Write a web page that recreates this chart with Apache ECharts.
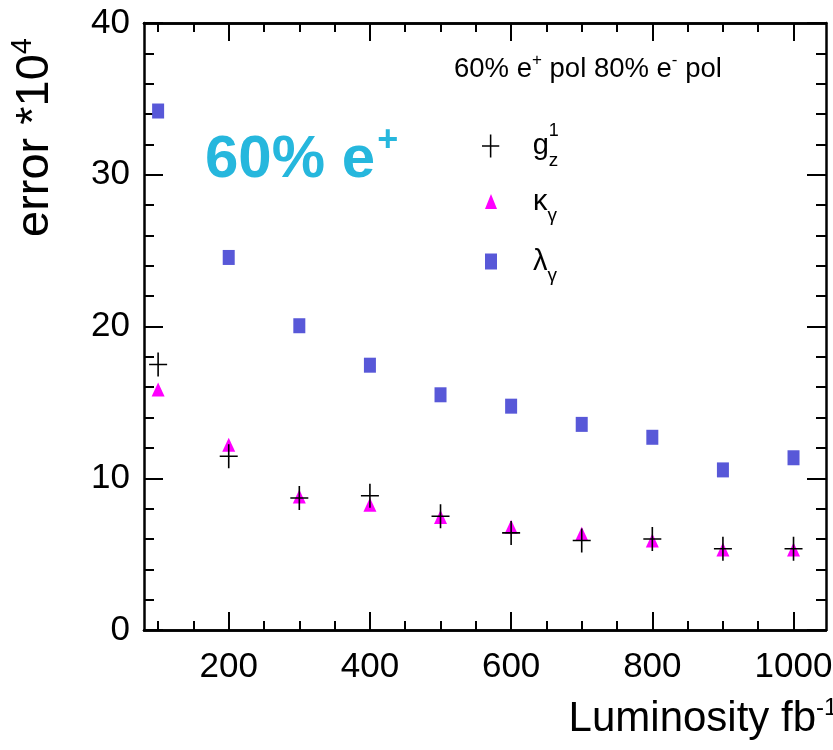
<!DOCTYPE html>
<html>
<head>
<meta charset="utf-8">
<script src="https://cdn.jsdelivr.net/npm/echarts@6.0.0/dist/echarts.min.js"></script>
<style>
  html, body { margin: 0; padding: 0; background: #fff; }
  #chart { width: 833px; height: 750px; }
</style>
</head>
<body>
<div id="chart"></div>
<script>
// Integrated luminosity points (fb^-1)
const luminosity = [100, 200, 300, 400, 500, 600, 700, 800, 900, 1000];
// Expected errors (x 10^4) on the triple gauge couplings
const errG1z    = [17.5, 11.45, 8.7, 8.85, 7.5, 6.4, 5.9, 6.0, 5.35, 5.35];
const errKappa  = [15.85, 12.2, 8.8, 8.25, 7.45, 6.8, 6.35, 5.9, 5.3, 5.3];
const errLambda = [34.2, 24.55, 20.05, 17.45, 15.5, 14.75, 13.55, 12.7, 10.55, 11.35];
// Axis tick positions
const xMajorTicks = [200, 400, 600, 800, 1000];
const xMinorTicks = [100, 150, 250, 300, 350, 450, 500, 550, 650, 700, 750, 850, 900, 950];

const SANS = '"Liberation Sans", Arial, Helvetica, sans-serif';
const PLUS = 'path://M8.2,0h1.6v24h-1.6z M0,11.2h18v1.6h-18z';

const pairs = vals => luminosity.map((x, i) => [x, vals[i]]);

const xRange = { type: 'value', min: 80, max: 1046 };
function xAxisDef(position, ticks, len, withLabels) {
  return Object.assign({}, xRange, {
    position: position,
    axisLine: { show: true, lineStyle: { color: '#000', width: 2.5 } },
    axisTick: { show: true, inside: true, length: len, customValues: ticks,
                lineStyle: { color: '#000', width: 2 } },
    axisLabel: withLabels
      ? { show: true, customValues: xMajorTicks, margin: 20, color: '#000',
          fontSize: 35, fontFamily: SANS, formatter: v => String(v) }
      : { show: false },
    splitLine: { show: false }
  });
}
function yAxisDef(position, withLabels) {
  return {
    type: 'value', min: 0, max: 40, interval: 10, position: position,
    axisLine: { show: true, lineStyle: { color: '#000', width: 2.5 } },
    axisTick: { show: true, inside: true, length: 19, lineStyle: { color: '#000', width: 2 } },
    minorTick: { show: true, splitNumber: 5, length: 10, lineStyle: { color: '#000', width: 2 } },
    axisLabel: withLabels
      ? { show: true, margin: 14, color: '#000', fontSize: 35, fontFamily: SANS }
      : { show: false },
    splitLine: { show: false }
  };
}

const xBottom = xAxisDef('bottom', xMajorTicks, 18, true);
xBottom.name = '{a|Luminosity fb}{s|-1}';
xBottom.nameLocation = 'middle';
xBottom.nameGap = 66;
xBottom.nameTextStyle = {
  padding: [0, 0, 0, 436],
  rich: {
    a: { fontSize: 42, fontFamily: SANS, color: '#000', lineHeight: 46 },
    s: { fontSize: 24, fontFamily: SANS, color: '#000', lineHeight: 46, verticalAlign: 'top' }
  }
};

const yLeft = yAxisDef('left', true);
yLeft.name = '{a|error *10}{s|4}';
yLeft.nameLocation = 'middle';
yLeft.nameGap = 82;
yLeft.nameTextStyle = {
  padding: [0, 0, 0, 378],
  rich: {
    a: { fontSize: 47, fontFamily: SANS, color: '#000', lineHeight: 54 },
    s: { fontSize: 29, fontFamily: SANS, color: '#000', lineHeight: 54, verticalAlign: 'top' }
  }
};

const legendText = {
  color: '#000',
  rich: {
    m: { fontSize: 29, fontFamily: SANS, color: '#000', lineHeight: 36 },
    p: { fontSize: 18, fontFamily: SANS, color: '#000', lineHeight: 18, width: 0, align: 'left', verticalAlign: 'top', padding: [-6, 0, 0, 0] },
    s: { fontSize: 19, fontFamily: SANS, color: '#000', lineHeight: 18, verticalAlign: 'bottom', padding: [0, 0, -6, 0] }
  }
};
const legendLabels = {
  'g1z': '{m|g}{p|1}{s|z}',
  'kappa': '{m|κ}{s|γ}',
  'lambda': '{m|λ}{s|γ}'
};
function legendDef(name, icon, w, h, left, top, pad) {
  return {
    data: [{ name: name, icon: icon }],
    left: left, top: top, itemWidth: w, itemHeight: h,
    padding: 0, selectedMode: false,
    formatter: n => legendLabels[n],
    textStyle: Object.assign({ padding: [0, 0, 0, pad] }, legendText)
  };
}

const option = {
  backgroundColor: '#fff',
  animation: false,
  grid: { left: 144, right: 7, top: 23, bottom: 120, containLabel: false, outerBoundsMode: 'none' },
  title: [
    {
      text: '{a|60% e}{s|+}',
      left: 200, top: 124,
      textStyle: {
        rich: {
          a: { fontSize: 60, fontWeight: 'bold', fontFamily: SANS, color: '#26b7dd', lineHeight: 62 },
          s: { fontSize: 36, fontWeight: 'bold', fontFamily: SANS, color: '#26b7dd', lineHeight: 62, verticalAlign: 'top', padding: [-6, 0, 0, 2] }
        }
      }
    },
    {
      text: '{a|60% e}{s|+}{a| pol 80% e}{s|-}{a| pol}',
      left: 449, top: 47,
      textStyle: {
        rich: {
          a: { fontSize: 27.5, fontWeight: 'normal', fontFamily: SANS, color: '#000', lineHeight: 34 },
          s: { fontSize: 17, fontWeight: 'normal', fontFamily: SANS, color: '#000', lineHeight: 34, verticalAlign: 'top', padding: [0, 0, 0, 0] }
        }
      }
    }
  ],
  legend: [
    legendDef('g1z', PLUS, 18, 23, 482, 122, 28),
    legendDef('kappa', 'triangle', 12, 15, 485, 187, 31),
    legendDef('lambda', 'rect', 12, 16, 485, 247, 31)
  ],
  xAxis: [
    xBottom,
    xAxisDef('bottom', xMinorTicks, 9, false),
    xAxisDef('top', xMajorTicks, 18, false),
    xAxisDef('top', xMinorTicks, 9, false)
  ],
  yAxis: [yLeft, yAxisDef('right', false)],
  series: [
    {
      name: 'lambda', type: 'scatter', data: pairs(errLambda),
      symbol: 'rect', symbolSize: [12, 15],
      itemStyle: { color: '#5858d8', opacity: 1 }
    },
    {
      name: 'kappa', type: 'scatter', data: pairs(errKappa),
      symbol: 'triangle', symbolSize: [13, 14],
      itemStyle: { color: '#ff00ff', opacity: 1 }
    },
    {
      name: 'g1z', type: 'scatter', data: pairs(errG1z),
      symbol: PLUS, symbolSize: [18, 24],
      itemStyle: { color: '#000', opacity: 1 }
    }
  ]
};

const chart = echarts.init(document.getElementById('chart'), null, { renderer: 'canvas' });
chart.setOption(option);
</script>
</body>
</html>
